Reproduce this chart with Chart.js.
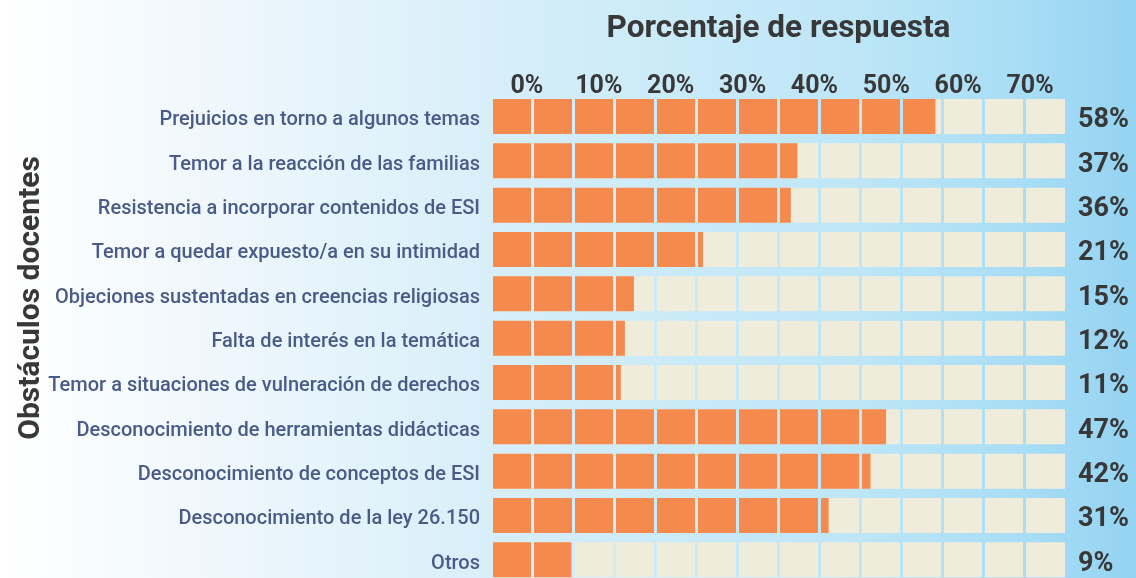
<!DOCTYPE html>
<html>
<head>
<meta charset="utf-8">
<script src="https://cdn.jsdelivr.net/npm/chart.js@4/dist/chart.umd.min.js"></script>
<style>
  html, body { margin: 0; padding: 0; overflow: hidden; }
  #wrap { width: 1136px; height: 582px; position: relative; }
</style>
</head>
<body>
<div id="wrap"><canvas id="chart"></canvas></div>
<script>
const categories = [
  'Prejuicios en torno a algunos temas',
  'Temor a la reacción de las familias',
  'Resistencia a incorporar contenidos de ESI',
  'Temor a quedar expuesto/a en su intimidad',
  'Objeciones sustentadas en creencias religiosas',
  'Falta de interés en la temática',
  'Temor a situaciones de vulneración de derechos',
  'Desconocimiento de herramientas didácticas',
  'Desconocimiento de conceptos de ESI',
  'Desconocimiento de la ley 26.150',
  'Otros',
];
// printed shares (right column)
const shares = [58, 37, 36, 21, 15, 12, 11, 47, 42, 31, 9];
// bar lengths as drawn in the picture (axis units, %)
const barLengths = [54.1, 37.3, 36.5, 25.8, 17.4, 16.3, 15.8, 48.1, 46.2, 41.1, 9.8];
const tickLabels = ['0%', '10%', '20%', '30%', '40%', '50%', '60%', '70%'];
const AXIS_MAX = 70;

const ORANGE = '#f58a4f';
const CREAM = '#efecdb';
const BG_STOPS = [
  [0, [255, 255, 255]],
  [0.2, [238, 247, 252]],
  [0.45, [214, 238, 249]],
  [0.75, [190, 230, 247]],
  [0.9, [168, 221, 245]],
  [1, [148, 211, 242]],
];

function bgAt(f) {
  for (let i = 1; i < BG_STOPS.length; i++) {
    const [p1, c1] = BG_STOPS[i];
    const [p0, c0] = BG_STOPS[i - 1];
    if (f <= p1) {
      const t = (f - p0) / (p1 - p0);
      const c = c0.map((v, k) => Math.round(v + (c1[k] - v) * t));
      return `rgb(${c[0]}, ${c[1]}, ${c[2]})`;
    }
  }
  const c = BG_STOPS[BG_STOPS.length - 1][1];
  return `rgb(${c[0]}, ${c[1]}, ${c[2]})`;
}

const background = {
  id: 'background',
  beforeDraw(chart) {
    const { ctx, width, height } = chart;
    const g = ctx.createLinearGradient(0, 0, width, 0);
    BG_STOPS.forEach(([p]) => g.addColorStop(p, bgAt(p)));
    ctx.save();
    ctx.fillStyle = g;
    ctx.fillRect(0, 0, width, height);
    ctx.restore();
  },
};

const sideTitle = {
  id: 'sideTitle',
  afterDraw(chart) {
    const { ctx } = chart;
    ctx.save();
    ctx.translate(31, 298);
    ctx.rotate(-Math.PI / 2);
    ctx.font = 'bold 30px Roboto';
    ctx.fillStyle = '#383838';
    ctx.textAlign = 'center';
    ctx.textBaseline = 'middle';
    ctx.fillText('Obstáculos docentes', 0, 0);
    ctx.restore();
  },
};

// no label overhang padding on the row axes
const noPad = (width) => (scale) => {
  scale.width = width;
  scale.paddingTop = 0;
  scale.paddingBottom = 0;
};

new Chart(document.getElementById('chart'), {
  type: 'bar',
  data: {
    labels: categories,
    datasets: [
      {
        label: 'Porcentaje de respuesta',
        data: barLengths,
        backgroundColor: ORANGE,
        barPercentage: 0.79,
        categoryPercentage: 1,
        grouped: false,
        order: 0,
      },
      {
        label: 'fondo',
        data: categories.map(() => AXIS_MAX),
        backgroundColor: CREAM,
        barPercentage: 0.79,
        categoryPercentage: 1,
        grouped: false,
        order: 1,
      },
    ],
  },
  options: {
    indexAxis: 'y',
    responsive: true,
    maintainAspectRatio: false,
    animation: false,
    layout: { padding: 0 },
    plugins: {
      legend: { display: false },
      tooltip: { enabled: false },
    },
    scales: {
      x: {
        type: 'linear',
        position: 'bottom',
        min: 0,
        max: AXIS_MAX,
        border: { display: false },
        ticks: { display: false, stepSize: 5 },
        grid: {
          z: 1,
          drawTicks: false,
          lineWidth: 3,
          color: (ctx) => {
            const s = ctx.chart.scales.x;
            return bgAt(s.getPixelForValue(ctx.tick.value) / ctx.chart.width);
          },
        },
        afterFit: (scale) => {
          scale.height = 0;
          scale.paddingLeft = 0;
          scale.paddingRight = 0;
        },
      },
      x2: {
        type: 'category',
        position: 'top',
        labels: tickLabels,
        offset: true,
        border: { display: false },
        grid: { display: false, drawTicks: false },
        ticks: {
          padding: -7,
          color: '#383838',
          font: { family: 'Roboto', size: 25, weight: 'bold' },
        },
        title: {
          display: true,
          text: 'Porcentaje de respuesta',
          color: '#383838',
          font: { family: 'Roboto', size: 31.5, weight: 'bold' },
          padding: { top: 10, bottom: 0 },
        },
        afterFit: (scale) => {
          scale.height = 94.3;
          scale.paddingLeft = 0;
          scale.paddingRight = 0;
        },
      },
      y: {
        type: 'category',
        position: 'left',
        offset: true,
        border: { display: false },
        grid: { display: false, drawTicks: false },
        ticks: {
          padding: 11,
          labelOffset: 4,
          color: '#4a5b87',
          font: { family: 'Roboto', size: 20, weight: 500 },
        },
        afterFit: noPad(491),
      },
      y2: {
        type: 'category',
        position: 'right',
        labels: shares.map((v) => v + '%'),
        offset: true,
        border: { display: false },
        grid: { display: false, drawTicks: false },
        ticks: {
          padding: 12,
          labelOffset: 4,
          color: '#383838',
          font: { family: 'Roboto', size: 27, weight: 'bold' },
        },
        afterFit: noPad(70),
      },
    },
  },
  plugins: [background, sideTitle],
});
</script>
</body>
</html>
